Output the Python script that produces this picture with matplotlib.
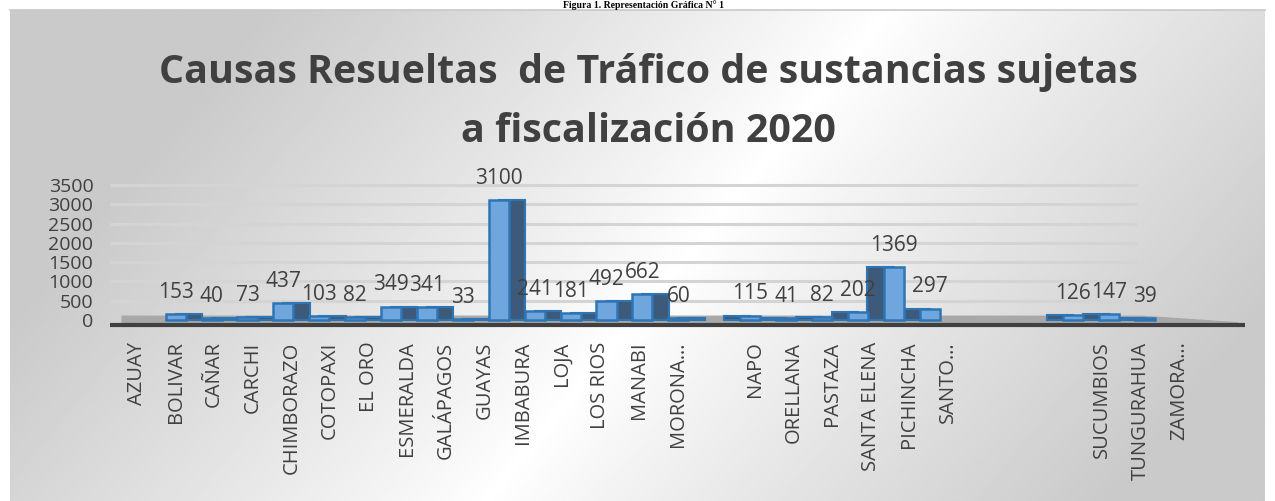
import numpy as np
import matplotlib
matplotlib.use("Agg")
import matplotlib.pyplot as plt


provincias = ["AZUAY", "BOLIVAR", "CAÑAR", "CARCHI", "CHIMBORAZO", "COTOPAXI", "EL ORO",
              "ESMERALDA", "GALÁPAGOS", "GUAYAS", "IMBABURA", "LOJA", "LOS RIOS", "MANABI",
              "MORONA…", "NAPO", "ORELLANA", "PASTAZA", "SANTA ELENA", "PICHINCHA", "SANTO…",
              "SUCUMBIOS", "TUNGURAHUA", "ZAMORA…"]
causas = [153, 40, 73, 437, 103, 82, 349, 341, 33, 3100, 241, 181, 492, 662, 60,
          115, 41, 82, 202, 1369, 297, 126, 147, 39]
y_ticks = [0, 500, 1000, 1500, 2000, 2500, 3000, 3500]

titulo_1 = "Causas Resueltas  de Tráfico de sustancias sujetas"
titulo_2 = "a fiscalización 2020"
leyenda_figura = "Figura 1. Representación Gráfica N° 1"

plt.rcParams["font.family"] = ["Open Sans", "DejaVu Sans"]
texto = "#404040"

W, H = 1275, 501
fig = plt.figure(figsize=(W / 100, H / 100), dpi=100, facecolor="white")

# fondo con degradado gris-blanco-gris (estilo Excel)
bg = fig.add_axes([10 / W, 0, 1255 / W, 491 / H], zorder=-5)
yy, xx = np.mgrid[0:1:200j, 0:1:600j]
centro = 0.70 - 0.32 * yy
t = np.abs(xx - centro)
gris = 1 - 0.21 * np.clip(t / 0.5, 0, 1) ** 0.9
bg.imshow(gris, cmap="gray", vmin=0, vmax=1, aspect="auto", interpolation="bilinear")
bg.set_xticks([])
bg.set_yticks([])
for s in bg.spines.values():
    s.set_visible(False)
fig.add_artist(plt.Line2D([10 / W, 1265 / W], [491 / H, 491 / H], color="#c8c8c8", lw=1.2))

fig.text(0.505, 1 - 8 / H, leyenda_figura, ha="center", va="baseline", fontsize=7,
         fontweight="bold", family="Liberation Serif", color="black")

fig.text(648 / W, 1 - 83 / H, titulo_1, ha="center", va="baseline", fontsize=28.4,
         fontweight="bold", color=texto)
fig.text(648 / W, 1 - 142 / H, titulo_2, ha="center", va="baseline", fontsize=28.4,
         fontweight="bold", color=texto)

# ejes del grafico
ax = fig.add_axes([110 / W, (H - 327.7) / H, 1135 / W, 146.6 / H])
ax.set_facecolor("none")
for s in ax.spines.values():
    s.set_visible(False)

n = len(provincias)
idx = np.arange(n)
pos = idx + np.where(idx >= 15, 1, 0) + np.where(idx >= 21, 3, 0)

# perspectiva: las barras convergen hacia el centro
fuga = 14.3
bar_x = fuga + (pos - fuga) * 0.93
lado = np.where(pos < fuga, 1, -1)

xmin, xmax = -0.70, 28.7
ax.set_xlim(xmin, xmax)
ax.set_ylim(-200, 3600)

ax.hlines(y_ticks[1:], xmin, 25.9, color="#d4d4d4", lw=2.2, zorder=0)
ax.fill_between([xmin + 0.3, 26.0, xmax - 0.2], [-100, -100, -100], [110, 110, -60],
                color="#a8a8a8", zorder=1)
ax.axhline(-125, xmin=0, xmax=1, color=texto, lw=3, zorder=2)

ax.bar(bar_x, causas, width=lado * 0.68, align="edge", color="#3e5a7a",
       edgecolor="#2e75b6", linewidth=1.5, zorder=3)
ax.bar(bar_x, causas, width=0.52, color="#6fa6de", edgecolor="#2e75b6",
       linewidth=1.8, zorder=4)

for x, v in zip(bar_x, causas):
    ax.annotate(str(v), (x, v), xytext=(0, 8), textcoords="offset points",
                ha="center", va="bottom", fontsize=15, color=texto, zorder=6)

ax.set_yticks(y_ticks)
ax.set_yticklabels([str(v) for v in y_ticks])
ax.tick_params(axis="y", length=0, pad=12, labelsize=14, labelcolor=texto)
ax.set_xticks(pos)
ax.set_xticklabels(provincias, rotation=90, va="top", ha="center")
ax.tick_params(axis="x", length=0, pad=10, labelsize=14.5, labelcolor=texto)

fig.savefig("out.png", dpi=100)
